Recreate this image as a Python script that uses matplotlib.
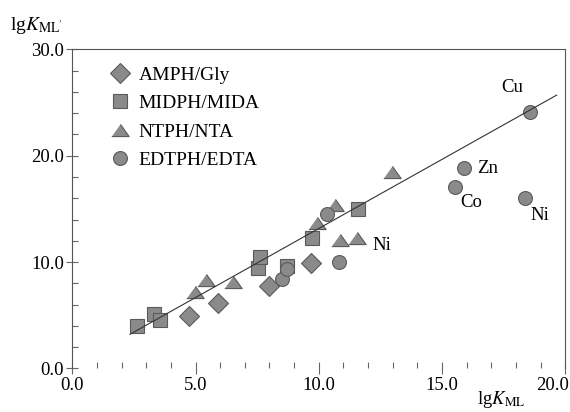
import numpy as np
import matplotlib.pyplot as plt
import matplotlib.transforms as mtransforms
from matplotlib.ticker import MultipleLocator, FormatStrFormatter

plt.rcParams['font.family'] = ['Liberation Serif', 'DejaVu Serif']
plt.rcParams['mathtext.fontset'] = 'stix'

# datos
amph_x = [4.75, 5.92, 7.99, 9.67]
amph_y = [4.95, 6.11, 7.74, 9.88]
midph_x = [2.62, 3.33, 3.57, 7.55, 7.61, 8.70, 9.71, 11.58]
midph_y = [4.00, 5.10, 4.54, 9.46, 10.50, 9.60, 12.23, 14.98]
ntph_x = [4.98, 5.42, 6.53, 9.91, 10.66, 10.86, 11.54, 12.96]
ntph_y = [7.20, 8.30, 8.15, 13.70, 15.36, 12.07, 12.23, 18.50]
edtph_x = [8.50, 8.70, 10.35, 10.83, 15.53, 15.89, 18.37, 18.57]
edtph_y = [8.40, 9.30, 14.50, 10.03, 17.08, 18.87, 16.05, 24.14]

fit_slope = 1.30
fit_intercept = 0.16
fit_range = [2.34, 19.65]

metal_names = ['Cu', 'Zn', 'Co', 'Ni', 'Ni']
metal_x = [17.83, 16.86, 16.20, 18.95, 12.55]
metal_y = [26.43, 18.84, 15.58, 14.42, 11.60]

x_ticks = [0, 5, 10, 15, 20]

fill = '#8a8a8a'
edge = '#5a5a5a'
tri = [(-1, -0.7), (1, -0.7), (0, 0.7)]

fig = plt.figure(figsize=(5.7, 4.12), dpi=100)
ax = fig.add_axes([0.1268, 0.106, 0.8650, 0.774])

kw = dict(linestyle='none', markerfacecolor=fill, markeredgecolor=edge, markeredgewidth=0.8)
ax.plot(amph_x, amph_y, marker='D', markersize=9.7, label='AMPH/Gly', **kw)
ax.plot(midph_x, midph_y, marker='s', markersize=9.9, label='MIDPH/MIDA', **kw)
ax.plot(ntph_x, ntph_y, marker=tri, markersize=12.5, label='NTPH/NTA', **kw)
ax.plot(edtph_x, edtph_y, marker='o', markersize=10, label='EDTPH/EDTA', **kw)

xf = np.array(fit_range)
ax.plot(xf, fit_slope * xf + fit_intercept, color='#333333', linewidth=0.8, zorder=5)

for name, tx, ty in zip(metal_names, metal_x, metal_y):
    ax.text(tx, ty, name, fontsize=13.5, ha='center', va='center')

ax.set_xlim(0, 20)
ax.set_ylim(0, 30)
ax.set_xticks(x_ticks)
ax.set_xticklabels(['%.1f' % v for v in x_ticks])
ax.xaxis.set_minor_locator(MultipleLocator(1))
ax.yaxis.set_major_locator(MultipleLocator(10))
ax.yaxis.set_minor_locator(MultipleLocator(2))
ax.yaxis.set_major_formatter(FormatStrFormatter('%.1f'))
ax.tick_params(which='major', direction='inout', length=8, width=0.8, color='#666666',
               labelsize=13.5, pad=2)
ax.tick_params(which='minor', direction='in', length=4, width=0.8, color='#666666')
ax.tick_params(axis='x', which='both', top=False)
ax.tick_params(axis='y', which='both', right=False)
ax.spines['bottom'].set_visible(False)
for s in ['top', 'left', 'right']:
    ax.spines[s].set_color('#555555')
    ax.spines[s].set_linewidth(0.8)

# la etiqueta 20.0 se corre a la izquierda para que quepa
last = ax.xaxis.get_major_ticks()[-1].label1
last.set_horizontalalignment('right')
last.set_transform(last.get_transform() + mtransforms.ScaledTranslation(4 / 100, 0, fig.dpi_scale_trans))

ax.legend(loc='upper left', bbox_to_anchor=(0.077, 0.947), frameon=False, fontsize=14,
          handlelength=1.0, handletextpad=0.45, labelspacing=0.55, borderpad=0,
          borderaxespad=0, numpoints=1)

fig.text(10 / 570, 1 - 30 / 412, r'lg$K_{\mathrm{ML^{\prime}}}$', fontsize=14, ha='left', va='baseline')
fig.text(477 / 570, 1 - 404 / 412, r'lg$K_{\mathrm{ML}}$', fontsize=13.5, ha='left', va='baseline')

fig.savefig('out.png', dpi=100)
